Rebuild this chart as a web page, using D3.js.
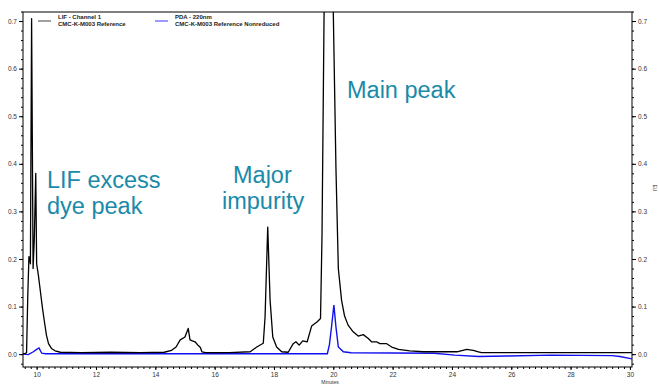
<!DOCTYPE html>
<html>
<head>
<meta charset="utf-8">
<script src="https://cdn.jsdelivr.net/npm/d3@7"></script>
<style>
  body { margin: 0; background: #fff; }
  svg { display: block; font-family: "Liberation Sans", Arial, sans-serif; }
  .axis text { font-size: 6.5px; fill: #333; }
  .axis path, .axis line { stroke: #000; stroke-width: 1; }
  .note { fill: #1a8aa9; font-size: 23.5px; }
  .legend { font-size: 6px; font-weight: bold; fill: #222; }
</style>
</head>
<body>
<div id="chart-area"></div>
<script>
// LIF - Channel 1 (black trace)
const lifMinutes = [9.54, 9.60, 9.66, 9.70, 9.74, 9.77, 9.79, 9.83, 9.88, 9.92, 9.97, 10.0, 10.06, 10.13, 10.2, 10.27, 10.33, 10.4, 10.5, 10.62, 10.8,
  11.5, 12.5, 13.5, 14.3, 14.55, 14.7, 14.84, 15.0, 15.11, 15.17, 15.25, 15.34, 15.45, 15.52, 15.57, 15.7, 16.5,
  17.2, 17.42, 17.64, 17.7, 17.79, 17.87, 17.96, 18.09, 18.26, 18.48, 18.65, 18.74, 18.85, 18.97, 19.12, 19.27, 19.46, 19.57,
  19.62, 19.69, 19.84, 20.0, 20.09, 20.17, 20.28, 20.38, 20.5, 20.67, 20.84, 21.01, 21.18, 21.29, 21.46, 21.57, 21.8, 21.97,
  22.2, 22.58, 23.03, 24.17, 24.5, 24.72, 24.89, 25.0, 30.07];
const lifEU = [0.001, 0.001, 0.003, 0.12, 0.205, 0.20, 0.19, 0.705, 0.18, 0.24, 0.38, 0.19, 0.165, 0.13, 0.095, 0.065, 0.04, 0.022, 0.012, 0.007, 0.004,
  0.003, 0.004, 0.003, 0.004, 0.008, 0.015, 0.03, 0.036, 0.054, 0.03, 0.028, 0.026, 0.018, 0.014, 0.005, 0.003, 0.003,
  0.005, 0.015, 0.023, 0.078, 0.267, 0.113, 0.036, 0.015, 0.005, 0.004, 0.022, 0.026, 0.019, 0.028, 0.026, 0.059, 0.068, 0.075,
  0.25, 0.72, 1.5, 0.72, 0.39, 0.18, 0.113, 0.08, 0.061, 0.047, 0.038, 0.041, 0.033, 0.026, 0.026, 0.022, 0.022, 0.015,
  0.01, 0.007, 0.005, 0.005, 0.01, 0.008, 0.005, 0.003, 0.003];

// PDA - 220nm (blue trace)
const pdaMinutes = [9.54, 9.72, 9.89, 10.0, 10.08, 10.17, 10.3, 19.8, 19.87, 19.94, 20.02, 20.09, 20.17, 20.34, 20.6, 23.4, 24.1, 24.9, 25.85, 27.36, 29.4, 29.66, 30.07];
const pdaEU = [0.0, -0.001, 0.005, 0.01, 0.013, 0.002, 0.001, 0.001, 0.02, 0.057, 0.103, 0.057, 0.015, 0.005, 0.003, 0.002, -0.002, -0.005, -0.004, -0.002, -0.003, -0.005, -0.01];

const yTicks = [0.0, 0.1, 0.2, 0.3, 0.4, 0.5, 0.6, 0.7];
const xTicks = [10, 12, 14, 16, 18, 20, 22, 24, 26, 28, 30];

const width = 659, height = 386;
const margin = { top: 12, left: 23, right: 27, bottom: 19 };

const svg = d3.select("#chart-area")
              .append("svg")
              .attr("width", width)
              .attr("height", height);

const xScale = d3.scaleLinear()
                 .domain([9.54, 30.07])
                 .range([margin.left, width - margin.right]);

const yScale = d3.scaleLinear()
                 .domain([-0.027, 0.719])
                 .range([height - margin.bottom, margin.top]);

svg.append("clipPath")
   .attr("id", "plot-clip")
   .append("rect")
   .attr("x", margin.left)
   .attr("y", margin.top)
   .attr("width", width - margin.left - margin.right)
   .attr("height", height - margin.top - margin.bottom);

// minor ticks
const minorY = d3.range(-0.02, 0.7201, 0.02);
const minorX = d3.range(9.6, 30.0501, 0.2);

svg.append("g")
   .attr("class", "axis")
   .attr("transform", "translate(" + margin.left + ",0)")
   .call(d3.axisLeft(yScale).tickValues(minorY).tickSize(2).tickFormat(""));

svg.append("g")
   .attr("class", "axis")
   .attr("transform", "translate(" + (width - margin.right) + ",0)")
   .call(d3.axisRight(yScale).tickValues(minorY).tickSize(2).tickFormat(""));

svg.append("g")
   .attr("class", "axis")
   .attr("transform", "translate(0," + (height - margin.bottom) + ")")
   .call(d3.axisBottom(xScale).tickValues(minorX).tickSize(2).tickFormat(""));

// major ticks
svg.append("g")
   .attr("class", "axis")
   .attr("id", "y-axis")
   .attr("transform", "translate(" + margin.left + ",0)")
   .call(d3.axisLeft(yScale).tickValues(yTicks).tickSize(4).tickPadding(2).tickFormat(d3.format(".1f")));

svg.append("g")
   .attr("class", "axis")
   .attr("transform", "translate(" + (width - margin.right) + ",0)")
   .call(d3.axisRight(yScale).tickValues(yTicks).tickSize(4).tickPadding(2).tickFormat(d3.format(".1f")));

svg.append("g")
   .attr("class", "axis")
   .attr("id", "x-axis")
   .attr("transform", "translate(0," + (height - margin.bottom) + ")")
   .call(d3.axisBottom(xScale).tickValues(xTicks).tickSize(3).tickPadding(2));

svg.selectAll(".axis .domain").attr("d", null);

// frame
svg.append("rect")
   .attr("x", margin.left)
   .attr("y", margin.top)
   .attr("width", width - margin.left - margin.right)
   .attr("height", height - margin.top - margin.bottom)
   .attr("fill", "none")
   .attr("stroke", "#000")
   .attr("stroke-width", 1);

svg.append("text")
   .attr("text-anchor", "middle")
   .attr("x", 330)
   .attr("y", 384)
   .style("font-size", "5px")
   .style("fill", "#333")
   .text("Minutes");

svg.append("text")
   .attr("text-anchor", "middle")
   .attr("transform", "translate(653,188) rotate(90)")
   .style("font-size", "5px")
   .style("fill", "#333")
   .text("EU");

const line = d3.line()
               .x(d => xScale(d[0]))
               .y(d => yScale(d[1]));

const plot = svg.append("g").attr("clip-path", "url(#plot-clip)");

plot.append("path")
    .datum(d3.zip(pdaMinutes, pdaEU))
    .attr("d", line)
    .attr("fill", "none")
    .attr("stroke", "#1010ee")
    .attr("stroke-width", 1.4);

plot.append("path")
    .datum(d3.zip(lifMinutes, lifEU))
    .attr("d", line)
    .attr("fill", "none")
    .attr("stroke", "#000")
    .attr("stroke-width", 1.3)
    .attr("stroke-linejoin", "round");

// legend
const legend = [
  { x: 38, color: "#808080", lines: ["LIF - Channel 1", "CMC-K-M003 Reference"] },
  { x: 155, color: "#7a7aff", lines: ["PDA - 220nm", "CMC-K-M003 Reference Nonreduced"] }
];

legend.forEach(l => {
  svg.append("line")
     .attr("x1", l.x).attr("x2", l.x + 13)
     .attr("y1", 21).attr("y2", 21)
     .attr("stroke", l.color)
     .attr("stroke-width", 1.5);
  l.lines.forEach((t, i) => {
    svg.append("text")
       .attr("class", "legend")
       .attr("x", l.x + 20)
       .attr("y", 19 + i * 7)
       .text(t);
  });
});

// annotations
const notes = [
  { x: 47, y: 188, text: "LIF excess" },
  { x: 47, y: 214, text: "dye peak" },
  { x: 233, y: 183, text: "Major" },
  { x: 222, y: 209, text: "impurity" },
  { x: 347, y: 98, text: "Main peak" }
];

svg.selectAll(".note")
   .data(notes)
   .enter()
   .append("text")
   .attr("class", "note")
   .attr("x", d => d.x)
   .attr("y", d => d.y)
   .text(d => d.text);
</script>
</body>
</html>
